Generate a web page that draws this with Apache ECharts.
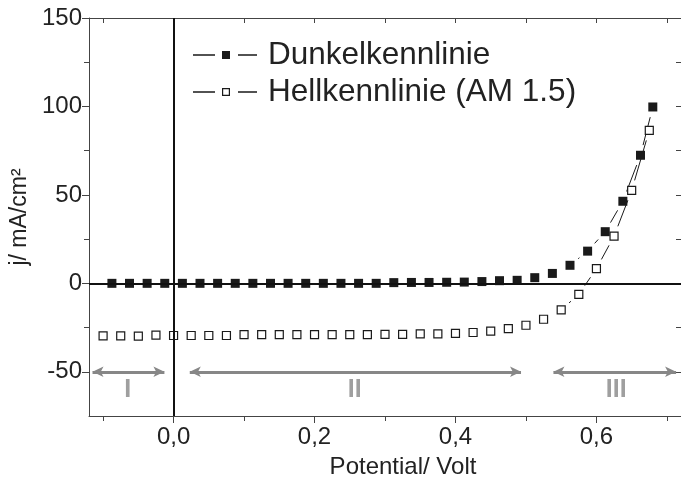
<!DOCTYPE html>
<html>
<head>
<meta charset="utf-8">
<script src="https://cdn.jsdelivr.net/npm/echarts@6/dist/echarts.min.js"></script>
<style>html,body{margin:0;padding:0;background:#fff}#c{width:681px;height:484px}</style>
</head>
<body>
<div id="c"></div>
<script>
// ---- data ----
const darkX = [-0.0875,-0.0625,-0.0375,-0.0125,0.0125,0.0375,0.0625,0.0875,0.1125,0.1375,0.1625,0.1875,0.2125,0.2375,0.2625,0.2875,0.3125,0.3375,0.3625,0.3875,0.4125,0.4375,0.4625,0.4875,0.5125,0.5375,0.5625,0.5875,0.6125,0.6375,0.6625,0.68];
const darkY = [0,0,0,0,0,0,0,0,0,0,0,0,0,0,0,0,0.4,0.5,0.5,0.6,0.7,1.0,1.5,1.7,3.2,5.6,10.2,18.2,29.2,46.4,72.4,99.7];
const lightX = [-0.1,-0.075,-0.05,-0.025,0,0.025,0.05,0.075,0.1,0.125,0.15,0.175,0.2,0.225,0.25,0.275,0.3,0.325,0.35,0.375,0.4,0.425,0.45,0.475,0.5,0.525,0.55,0.575,0.6,0.625,0.65,0.675];
const lightY = [-29.7,-29.7,-29.8,-29.3,-29.5,-29.5,-29.5,-29.5,-29.0,-29.0,-29.0,-29.0,-29.0,-29.0,-29.0,-29.0,-28.8,-28.8,-28.6,-28.6,-28.3,-27.8,-27.0,-25.6,-23.7,-20.3,-15.0,-6.2,8.3,26.7,52.5,86.5];
const seriesNames = ['Dunkelkennlinie', 'Hellkennlinie (AM 1.5)'];
const xMajorTicks = [0, 0.2, 0.4, 0.6];
const xMinorTicks = [-0.1, 0.1, 0.3, 0.5, 0.7];
const yMajorTicks = [-50, 0, 50, 100, 150];
const yMinorTicks = [-25, 25, 75, 125];
const regionNames = ['I', 'II', 'III'];
const regionLabelX = [-0.065, 0.257, 0.628];
const regionLabelY = [-60.5, -60.5, -60.5];
const arrowStartX = [-0.115, 0.023, 0.539];
const arrowEndX = [-0.013, 0.493, 0.713];
const arrowY = -50;

const FONT = "'Liberation Sans', Arial, Helvetica, sans-serif";
const GAP = 10.5;

function pairs(xs, ys) { return xs.map((x, i) => [x, ys[i]]); }
function segs(xs, ys) {
  const out = [];
  for (let i = 0; i < xs.length - 1; i++) out.push([xs[i], ys[i], xs[i + 1], ys[i + 1]]);
  return out;
}
function gapLine(params, api) {
  const p1 = api.coord([api.value(0), api.value(1)]);
  const p2 = api.coord([api.value(2), api.value(3)]);
  const dx = p2[0] - p1[0], dy = p2[1] - p1[1];
  const d = Math.sqrt(dx * dx + dy * dy);
  if (d <= 2 * GAP + 1) return { type: 'group', children: [] };
  const ux = dx / d, uy = dy / d;
  return {
    type: 'line',
    shape: { x1: p1[0] + ux * GAP, y1: p1[1] + uy * GAP, x2: p2[0] - ux * GAP, y2: p2[1] - uy * GAP },
    style: { stroke: '#1a1a1a', lineWidth: 1 }
  };
}
const allTenths = xMinorTicks.concat(xMajorTicks).sort((a, b) => a - b);
const allQuarters = yMinorTicks.concat(yMajorTicks).sort((a, b) => a - b);

const iconFilled = 'path://M0 3.3H22V4.7H0Z M29 0H37V8H29Z M45 3.3H64V4.7H45Z';
const iconHollow = 'path://M0 3.3H22V4.7H0Z M29 0H37V8H29Z M30.2 1.2V6.8H35.8V1.2Z M45 3.3H64V4.7H45Z';

const axisLineStyle = { color: '#444', width: 1 };
const chart = echarts.init(document.getElementById('c'), null, { renderer: 'canvas' });
chart.setOption({
  animation: false,
  backgroundColor: '#fff',
  textStyle: { fontFamily: FONT },
  grid: { left: 89, right: 0, top: 18, bottom: 68, containLabel: false },
  legend: {
    orient: 'vertical', left: 193, top: 39, padding: 0,
    itemWidth: 64, itemHeight: 8, itemGap: 5,
    textStyle: { fontFamily: FONT, fontSize: 31.5, lineHeight: 31, color: '#222', padding: [0, 0, 0, 6] },
    data: [
      { name: seriesNames[0], icon: iconFilled, itemStyle: { color: '#1a1a1a', borderWidth: 0 } },
      { name: seriesNames[1], icon: iconHollow, itemStyle: { color: '#1a1a1a', borderWidth: 0 } }
    ]
  },
  xAxis: [
    {
      type: 'value', position: 'bottom', min: -0.12, max: 0.72,
      axisLine: { show: true, onZero: false, lineStyle: axisLineStyle },
      axisTick: { show: true, inside: false, length: 7, customValues: xMajorTicks, lineStyle: axisLineStyle },
      axisLabel: { show: true, customValues: xMajorTicks, margin: 9, fontSize: 24, color: '#222', fontFamily: FONT,
        formatter: v => v.toFixed(1).replace('.', ',') },
      splitLine: { show: false },
      name: 'Potential/ Volt', nameLocation: 'middle', nameGap: 39,
      nameTextStyle: { fontSize: 24, color: '#222', fontFamily: FONT, padding: [0, 0, 0, 36] }
    },
    {
      type: 'value', position: 'bottom', min: -0.12, max: 0.72,
      axisLine: { show: false, onZero: false },
      axisTick: { show: true, inside: false, length: 5, customValues: xMinorTicks, lineStyle: axisLineStyle },
      axisLabel: { show: false }, splitLine: { show: false }
    },
    {
      type: 'value', position: 'top', min: -0.12, max: 0.72,
      axisLine: { show: true, onZero: false, lineStyle: axisLineStyle },
      axisTick: { show: true, inside: true, length: 5, customValues: allTenths, lineStyle: axisLineStyle },
      axisLabel: { show: false }, splitLine: { show: false }
    }
  ],
  yAxis: [
    {
      type: 'value', position: 'left', min: -75, max: 150,
      axisLine: { show: true, onZero: false, lineStyle: axisLineStyle },
      axisTick: { show: true, inside: false, length: 7, customValues: yMajorTicks, lineStyle: axisLineStyle },
      axisLabel: { show: true, customValues: yMajorTicks, margin: 7, fontSize: 24, color: '#222', fontFamily: FONT },
      splitLine: { show: false },
      name: 'j/ mA/cm²', nameLocation: 'middle', nameGap: 51,
      nameTextStyle: { fontSize: 23, color: '#222', fontFamily: FONT }
    },
    {
      type: 'value', position: 'left', min: -75, max: 150,
      axisLine: { show: false, onZero: false },
      axisTick: { show: true, inside: false, length: 5, customValues: yMinorTicks, lineStyle: axisLineStyle },
      axisLabel: { show: false }, splitLine: { show: false }
    },
    {
      type: 'value', position: 'right', min: -75, max: 150,
      axisLine: { show: true, onZero: false, lineStyle: axisLineStyle },
      axisTick: { show: true, inside: true, length: 5, customValues: allQuarters, lineStyle: axisLineStyle },
      axisLabel: { show: false }, splitLine: { show: false }
    }
  ],
  series: [
    {
      name: 'darkLine', type: 'custom', silent: true, z: 2,
      renderItem: gapLine, encode: { x: [0, 2], y: [1, 3] },
      data: segs(darkX, darkY)
    },
    {
      name: 'lightLine', type: 'custom', silent: true, z: 2,
      renderItem: gapLine, encode: { x: [0, 2], y: [1, 3] },
      data: segs(lightX, lightY)
    },
    {
      name: seriesNames[0], type: 'scatter', z: 3, symbol: 'rect', symbolSize: 9,
      itemStyle: { color: '#1a1a1a', opacity: 1 },
      data: pairs(darkX, darkY)
    },
    {
      name: seriesNames[1], type: 'scatter', z: 3, symbol: 'rect', symbolSize: 8,
      itemStyle: { color: '#fff', borderColor: '#1a1a1a', borderWidth: 1.2, opacity: 1 },
      data: pairs(lightX, lightY)
    },
    {
      name: 'regions', type: 'scatter', z: 4, silent: true, symbolSize: 1,
      itemStyle: { color: 'rgba(0,0,0,0)' },
      label: { show: true, position: 'inside', formatter: p => p.value[2],
        fontSize: 25, fontWeight: 'bold', color: '#878787', fontFamily: FONT },
      data: regionNames.map((n, i) => [regionLabelX[i], regionLabelY[i], n]),
      markLine: {
        silent: true, animation: false,
        symbol: ['arrow', 'arrow'], symbolSize: [8, 11],
        label: { show: false },
        lineStyle: { color: '#878787', width: 3, type: 'solid' },
        data: arrowStartX.map((x, i) => [{ coord: [x, arrowY] }, { coord: [arrowEndX[i], arrowY] }])
      }
    },
    {
      name: 'zero', type: 'line', z: 5, silent: true, data: [],
      markLine: {
        silent: true, animation: false, symbol: ['none', 'none'],
        label: { show: false },
        lineStyle: { color: '#111', width: 2, type: 'solid' },
        data: [{ xAxis: 0 }, { yAxis: 0 }]
      }
    }
  ]
});
</script>
</body>
</html>
